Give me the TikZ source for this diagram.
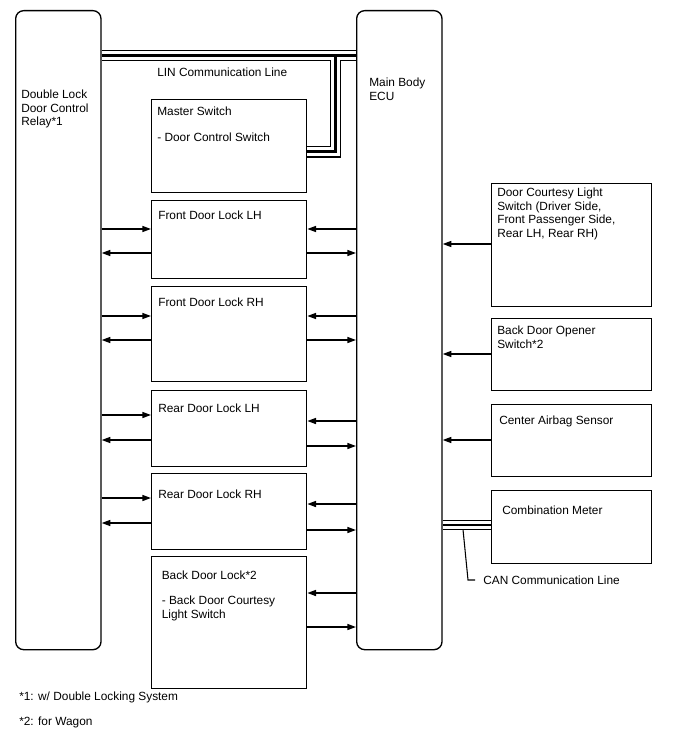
\documentclass[tikz,border=0pt]{standalone}
\usepackage{fontspec}
\setmainfont{Liberation Sans}
\usepackage{tikz}
\usetikzlibrary{arrows.meta,backgrounds}

\begin{document}
\begin{tikzpicture}[x=0.75pt,y=-0.75pt,
  bloc/.style={draw,line width=1pt,minimum width=116.25pt,anchor=north west,inner sep=0pt},
  capteur/.style={bloc,minimum width=120pt},
  unite/.style={draw,line width=1pt,rounded corners=6pt,minimum width=64pt,minimum height=479.25pt,anchor=north west,inner sep=0pt},
  texte/.style={anchor=base west,inner sep=0pt,align=left,font=\fontsize{8.9}{10.2}\selectfont},
  fleche/.style={-{Triangle[length=6.5pt,width=4.5pt]},line width=1.1pt},
  gaine/.style={line width=8.9pt},
  vide/.style={white,line width=7.1pt},
  ame/.style={line width=1.8pt},
  gainecan/.style={line width=7.8pt},
  videcan/.style={white,line width=5.8pt},
  amecan/.style={line width=0.9pt}
]
\useasboundingbox (0,0) rectangle (688,755);
% unites de commande (texte place sur la ligne de base de la derniere ligne)
\node[unite] (relais) at (15,10) {};
\node[unite] (ecu) at (356,10) {};
\node[texte] (trelais) at (21,125.7) {Double Lock\\Door Control\\Relay*1};
\node[texte] (tecu) at (369,100.6) {Main Body\\ECU};
% blocs du milieu
\node[bloc,minimum height=69.75pt] (maitre) at (151,99) {};
\node[bloc,minimum height=58.5pt] (avg) at (151,200) {};
\node[bloc,minimum height=71.25pt] (avd) at (151,286) {};
\node[bloc,minimum height=57pt] (arg) at (151,390) {};
\node[bloc,minimum height=57pt] (ard) at (151,473) {};
\node[bloc,minimum height=99pt] (hayon) at (151,556) {};
\node[texte] (tmaitre) at (157,141.6) {Master Switch\\[9pt]- Door Control Switch};
\node[texte] (tavg) at (158,220) {Front Door Lock LH};
\node[texte] (tavd) at (158,306) {Front Door Lock RH};
\node[texte] (targ) at (158,412) {Rear Door Lock LH};
\node[texte] (tard) at (158,498.5) {Rear Door Lock RH};
\node[texte] (thayon) at (161.5,618.5) {Back Door Lock*2\\[8.5pt]- Back Door Courtesy\\Light Switch};
% capteurs a droite
\node[capteur,minimum height=92.25pt] (courtoisie) at (491,183) {};
\node[capteur,minimum height=54pt] (ouvreur) at (491,318) {};
\node[capteur,minimum height=54pt] (airbag) at (491,404) {};
\node[capteur,minimum height=54.75pt] (compteur) at (491,490) {};
\node[texte] (tcourtoisie) at (497,237.5) {Door Courtesy Light\\Switch (Driver Side,\\Front Passenger Side,\\Rear LH, Rear RH)};
\node[texte] (touvreur) at (497,348.1) {Back Door Opener\\Switch*2};
\node[texte] (tairbag) at (499,424.5) {Center Airbag Sensor};
\node[texte] (tcompteur) at (502,514) {Combination Meter};
% lignes LIN et CAN
\node[texte] (lin) at (157,77) {LIN Communication Line};
\node[texte] (can) at (483,584) {CAN Communication Line};
\node[texte] (note1) at (19,700) {*1: w/ Double Locking System};
\node[texte] (note2) at (19,725) {*2: for Wagon};
\coordinate (prise) at (463,529.5);
\begin{scope}[on background layer]
\foreach \s in {gaine,vide,ame} {
  \draw[\s] (relais.east |- 0,55.5) -- (ecu.west |- 0,55.5);
  \draw[\s] (maitre.east |- 0,151.7) -- (335.5,151.7) -- (335.5,55.5) -- (ecu.west |- 0,55.5);
}
\foreach \s in {gainecan,videcan,amecan}
  \draw[\s] (ecu.east |- 0,525) -- (compteur.west |- 0,525);
\end{scope}
\draw[line width=0.8pt] (prise) -- ++(5,50.5) -- ([xshift=-6pt]can.west |- 0,580);
% relais <-> blocs
\draw[fleche] (relais.east |- 0,229) -- (avg.west |- 0,229);
\draw[fleche] (avg.west |- 0,253) -- (relais.east |- 0,253);
\draw[fleche] (relais.east |- 0,316) -- (avd.west |- 0,316);
\draw[fleche] (avd.west |- 0,340) -- (relais.east |- 0,340);
\draw[fleche] (relais.east |- 0,415) -- (arg.west |- 0,415);
\draw[fleche] (arg.west |- 0,440) -- (relais.east |- 0,440);
\draw[fleche] (relais.east |- 0,498) -- (ard.west |- 0,498);
\draw[fleche] (ard.west |- 0,523) -- (relais.east |- 0,523);
% ecu <-> blocs
\draw[fleche] (ecu.west |- 0,229) -- (avg.east |- 0,229);
\draw[fleche] (avg.east |- 0,253) -- (ecu.west |- 0,253);
\draw[fleche] (ecu.west |- 0,316) -- (avd.east |- 0,316);
\draw[fleche] (avd.east |- 0,340) -- (ecu.west |- 0,340);
\draw[fleche] (ecu.west |- 0,421) -- (arg.east |- 0,421);
\draw[fleche] (arg.east |- 0,446) -- (ecu.west |- 0,446);
\draw[fleche] (ecu.west |- 0,504) -- (ard.east |- 0,504);
\draw[fleche] (ard.east |- 0,530) -- (ecu.west |- 0,530);
\draw[fleche] (ecu.west |- 0,593) -- (hayon.east |- 0,593);
\draw[fleche] (hayon.east |- 0,627) -- (ecu.west |- 0,627);
% capteurs -> ecu
\draw[fleche] (courtoisie.west |- 0,244) -- (ecu.east |- 0,244);
\draw[fleche] (ouvreur.west |- 0,354) -- (ecu.east |- 0,354);
\draw[fleche] (airbag.west |- 0,440) -- (ecu.east |- 0,440);
\end{tikzpicture}
\end{document}
